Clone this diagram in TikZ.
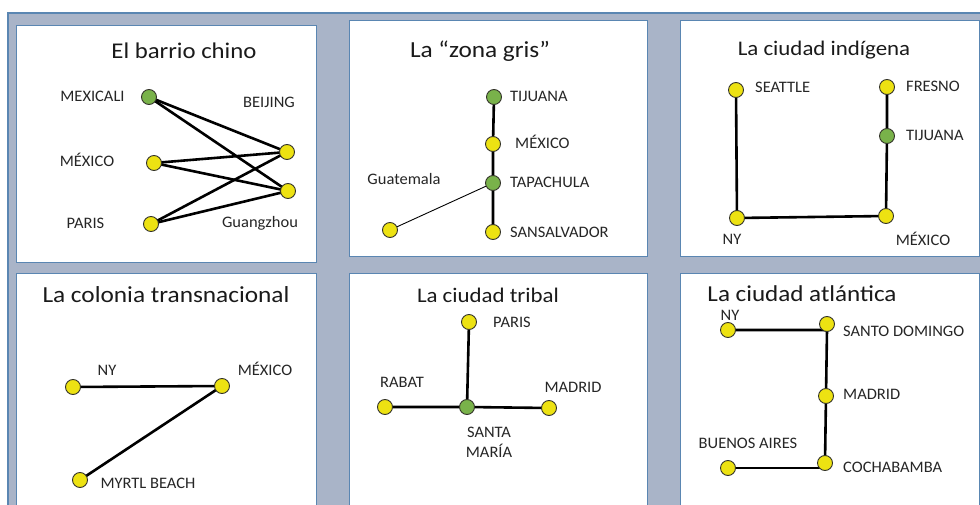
\documentclass[tikz,border=0pt]{standalone}
\usepackage{fontspec}
\setmainfont[FakeStretch=1.1]{Carlito}
\newfontfamily\labfont[FakeStretch=1.03]{Carlito}
\pgfdeclarelayer{panellayer}
\pgfdeclarelayer{edgelayer}
\pgfsetlayers{panellayer,edgelayer,main}
\definecolor{bgray}{HTML}{A9B4C8}
\definecolor{bblue}{HTML}{5A86B2}
\definecolor{yelc}{HTML}{EDE212}
\definecolor{grnc}{HTML}{79B24A}
\definecolor{outc}{HTML}{33332A}
\definecolor{labc}{HTML}{262626}
\definecolor{titc}{HTML}{1A1A1A}
\begin{document}
\begin{tikzpicture}[x=1pt,y=-1pt,
  city/.style={circle,draw=outc,line width=0.9pt,minimum size=15pt,inner sep=0pt},
  yel/.style={city,fill=yelc},
  grn/.style={city,fill=grnc},
  lab/.style={inner sep=0pt,text=labc,font=\labfont\fontsize{16}{16}\selectfont},
  titlebox/.style={inner sep=0pt,text=titc},
  panel/.style={fill=white,draw=bblue,line width=1pt},
  link/.style={line width=2.6pt,black},
  thinlink/.style={line width=0.9pt,black}]
\useasboundingbox (0,0) rectangle (980,505);
\begin{pgfonlayer}{panellayer}
\fill[white] (0,0) rectangle (980,505);
\fill[bgray] (8,13) rectangle (985,510);
\draw[bblue,line width=1.2pt] (8,510) -- (8,13) -- (985,13);
\draw[panel] (16,26) rectangle (316,262);
\draw[panel] (349,21) rectangle (647,257);
\draw[panel] (680,21) rectangle (979,257);
\draw[panel] (16,273) rectangle (316,515);
\draw[panel] (349,273) rectangle (647,515);
\draw[panel] (680,273) rectangle (979,515);
\end{pgfonlayer}

% ---------- Panel 1: El barrio chino
\node[titlebox,anchor=base,font=\fontsize{22.5}{24}\selectfont] (t1) at (184,59) {El barrio chino};
\node[grn] (p1mexicali) at (149,97) {};
\node[yel] (p1mexico) at (154,163) {};
\node[yel] (p1paris) at (151,224) {};
\node[yel] (p1beijing) at (287,152) {};
\node[yel] (p1guang) at (288,191) {};
\node[lab,anchor=base] (l1mexicali) at (92.5,102) {MEXICALI};
\node[lab,anchor=base] (l1beijing) at (269,108) {BEIJING};
\node[lab,anchor=base] (l1mexico) at (87,167) {MÉXICO};
\node[lab,anchor=base] (l1paris) at (85.5,229) {PARIS};
\node[lab,anchor=base] (l1guang) at (260,228) {Guangzhou};
\begin{pgfonlayer}{edgelayer}
\foreach \a in {p1mexicali,p1mexico,p1paris}
  \foreach \b in {p1beijing,p1guang}
    \draw[link] (\a.center) -- (\b.center);
\end{pgfonlayer}

% ---------- Panel 2: La zona gris
\node[titlebox,anchor=base,font=\fontsize{23}{24}\selectfont] (t2) at (480,58) {La “zona gris”};
\node[grn] (p2tijuana) at (494,97) {};
\node[yel] (p2mexico) at (493,144) {};
\node[grn] (p2tapachula) at (493,183) {};
\node[yel] (p2sansal) at (493,232) {};
\node[yel] (p2guate) at (390,230) {};
\node[lab,anchor=base west] (l2tijuana) at (510,102) {TIJUANA};
\node[lab,anchor=base west] (l2mexico) at (515,149) {MÉXICO};
\node[lab,anchor=base west] (l2tapachula) at (510,188) {TAPACHULA};
\node[lab,anchor=base west] (l2sansal) at (510,237) {SANSALVADOR};
\node[lab,anchor=base] (l2guate) at (404,185) {Guatemala};
\begin{pgfonlayer}{edgelayer}
\draw[link] (p2tijuana.center) -- (p2mexico.center) -- (p2tapachula.center) -- (p2sansal.center);
\draw[thinlink] (p2tapachula.center) -- (p2guate.center);
\end{pgfonlayer}

% ---------- Panel 3: La ciudad indigena
\node[titlebox,anchor=base,font=\fontsize{20.8}{22}\selectfont] (t3) at (824,56) {La ciudad indígena};
\node[yel] (p3seattle) at (736,90) {};
\node[yel] (p3fresno) at (887,87) {};
\node[grn] (p3tijuana) at (887,136) {};
\node[yel] (p3ny) at (737,218) {};
\node[yel] (p3mexico) at (886,216) {};
\node[lab,anchor=base west] (l3seattle) at (755,93) {SEATTLE};
\node[lab,anchor=base west] (l3fresno) at (906,92) {FRESNO};
\node[lab,anchor=base west] (l3tijuana) at (906,141) {TIJUANA};
\node[lab,anchor=base] (l3ny) at (732,244) {NY};
\node[lab,anchor=base] (l3mexico) at (923,246) {MÉXICO};
\begin{pgfonlayer}{edgelayer}
\draw[link] (p3seattle.center) -- (p3ny.center) -- (p3mexico.center) -- (p3tijuana.center) -- (p3fresno.center);
\end{pgfonlayer}

% ---------- Panel 4: La colonia transnacional
\node[titlebox,anchor=base,font=\fontsize{23}{24}\selectfont] (t4) at (166,302) {La colonia transnacional};
\node[yel] (p4ny) at (73,387) {};
\node[yel] (p4mexico) at (222,386) {};
\node[yel] (p4myrtl) at (80,480) {};
\node[lab,anchor=base] (l4ny) at (107,375) {NY};
\node[lab,anchor=base] (l4mexico) at (265,375) {MÉXICO};
\node[lab,anchor=base] (l4myrtl) at (148,488) {MYRTL BEACH};
\begin{pgfonlayer}{edgelayer}
\draw[link] (p4ny.center) -- (p4mexico.center) -- (p4myrtl.center);
\end{pgfonlayer}

% ---------- Panel 5: La ciudad tribal
\node[titlebox,anchor=base,font=\fontsize{20.8}{22}\selectfont] (t5) at (488,302) {La ciudad tribal};
\node[yel] (p5paris) at (469,322) {};
\node[yel] (p5rabat) at (385,407) {};
\node[grn] (p5santa) at (467,407) {};
\node[yel] (p5madrid) at (549,408) {};
\node[lab,anchor=base west] (l5paris) at (493,327) {PARIS};
\node[lab,anchor=base] (l5rabat) at (402,387) {RABAT};
\node[lab,anchor=base] (l5madrid) at (573,392) {MADRID};
\node[lab,anchor=base] (l5santa) at (489,437) {SANTA};
\node[lab,anchor=base] (l5maria) at (489,457) {MARÍA};
\begin{pgfonlayer}{edgelayer}
\draw[link] (p5paris.center) -- (p5santa.center);
\draw[link] (p5rabat.center) -- (p5santa.center) -- (p5madrid.center);
\end{pgfonlayer}

% ---------- Panel 6: La ciudad atlantica
\node[titlebox,anchor=base,font=\fontsize{22.8}{24}\selectfont] (t6) at (802,301) {La ciudad atlántica};
\node[yel] (p6ny) at (728,330) {};
\node[yel] (p6sd) at (827,324) {};
\node[yel] (p6madrid) at (826,396) {};
\node[yel] (p6coch) at (825,463) {};
\node[yel] (p6ba) at (728,468) {};
\node[lab,anchor=base] (l6ny) at (730,320) {NY};
\node[lab,anchor=base west] (l6sd) at (843,336) {SANTO DOMINGO};
\node[lab,anchor=base west] (l6madrid) at (843,399) {MADRID};
\node[lab,anchor=base] (l6ba) at (748,448) {BUENOS AIRES};
\node[lab,anchor=base west] (l6coch) at (843,472) {COCHABAMBA};
\begin{pgfonlayer}{edgelayer}
\draw[link] (p6ny.center) -- (p6ny.center -| p6sd.center) -- (p6madrid.center) -- (p6coch.center);
\draw[link] (p6ba.center) -- (p6ba.center -| p6coch.center) -- (p6coch.center);
\end{pgfonlayer}
\end{tikzpicture}
\end{document}
